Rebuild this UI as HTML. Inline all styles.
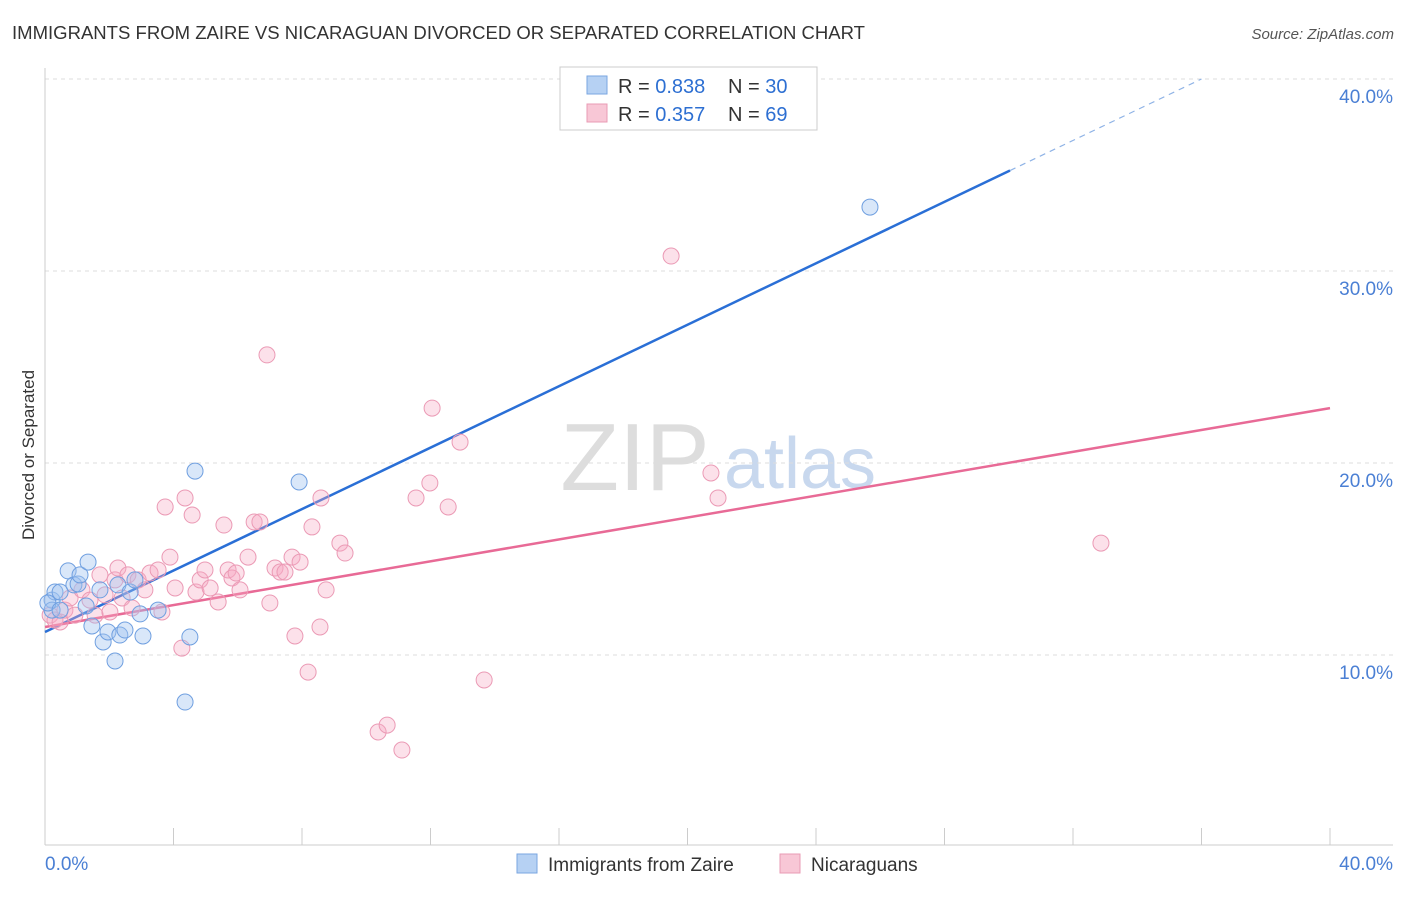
<!DOCTYPE html>
<html><head><meta charset="utf-8"><style>
body{margin:0;background:#fff;font-family:"Liberation Sans",sans-serif;}
svg text{font-family:"Liberation Sans",sans-serif;}
</style></head><body>
<svg id="chart" width="1406" height="892" viewBox="0 0 1406 892">
<text x="12" y="39" font-size="18" fill="#333" textLength="853" lengthAdjust="spacingAndGlyphs">IMMIGRANTS FROM ZAIRE VS NICARAGUAN DIVORCED OR SEPARATED CORRELATION CHART</text>
<text x="1394" y="39" font-size="15" fill="#555" font-style="italic" text-anchor="end">Source: ZipAtlas.com</text>
<text transform="translate(34,455) rotate(-90)" font-size="17" fill="#333" text-anchor="middle">Divorced or Separated</text>
<g><text x="635" y="490" font-size="96" fill="#ddd" font-family="Liberation Serif" text-anchor="middle">ZIP</text><text x="800" y="488" font-size="72" fill="#c8d8ee" text-anchor="middle">atlas</text></g>
<g id="grid"></g><g id="axes"></g><g id="lines"></g><g id="pts"></g>
<g>
<rect x="560" y="67" width="257" height="63" fill="#fff" stroke="#ccc"/>
<rect x="587" y="76" width="20" height="18" fill="#b6d1f3" stroke="#7aa6e0"/>
<rect x="587" y="104" width="20" height="18" fill="#f8c7d6" stroke="#e99bb4"/>
<text x="618" y="93" font-size="20" fill="#333">R = <tspan fill="#2d6fd2">0.838</tspan></text>
<text x="728" y="93" font-size="20" fill="#333">N = <tspan fill="#2d6fd2">30</tspan></text>
<text x="618" y="121" font-size="20" fill="#333">R = <tspan fill="#2d6fd2">0.357</tspan></text>
<text x="728" y="121" font-size="20" fill="#333">N = <tspan fill="#2d6fd2">69</tspan></text>
</g>
<g>
<rect x="517" y="854" width="20" height="19" fill="#b6d1f3" stroke="#7aa6e0"/>
<text x="548" y="871" font-size="19" fill="#333">Immigrants from Zaire</text>
<rect x="780" y="854" width="20" height="19" fill="#f8c7d6" stroke="#e99bb4"/>
<text x="811" y="871" font-size="19" fill="#333">Nicaraguans</text>
</g>
</svg>
<script>
const blueX=[0.22,0.31,0.47,0.22,0.72,0.90,1.03,1.09,1.34,1.28,1.46,1.71,1.81,1.96,2.18,2.33,2.49,2.27,2.65,2.80,2.96,3.05,3.52,4.36,4.51,4.67,7.91,25.68,0.09,0.47];
const blueY=[12.86,13.28,13.28,12.34,14.38,13.65,13.70,14.17,14.84,12.55,11.51,13.39,10.68,11.20,9.69,11.04,11.30,13.65,13.28,13.91,12.14,10.99,12.34,7.55,10.94,19.58,19.01,33.33,12.71,12.34];
const pinkX=[0.16,0.31,0.47,0.62,0.78,0.93,1.15,1.40,1.56,1.71,1.87,2.02,2.18,2.27,2.40,2.58,2.71,2.90,3.11,3.27,3.52,3.64,3.74,3.89,4.05,4.26,4.36,4.58,4.70,4.83,4.98,5.14,5.39,5.57,5.70,5.82,5.95,6.07,6.32,6.51,6.69,6.91,7.00,7.16,7.32,7.47,7.69,7.78,7.94,8.19,8.31,8.56,8.59,8.75,9.18,9.34,10.37,10.65,11.11,11.55,11.98,12.05,12.55,12.92,13.67,19.49,20.73,20.95,32.87];
const pinkY=[12.08,11.82,11.72,12.34,12.97,12.08,13.39,12.86,12.08,14.17,13.13,12.24,13.91,14.53,12.97,14.17,12.45,13.91,13.39,14.27,14.43,12.24,17.71,15.10,13.49,10.36,18.18,17.29,13.28,13.91,14.43,13.49,12.76,16.77,14.43,14.01,14.27,13.39,15.10,16.93,16.93,25.63,12.71,14.53,14.32,14.32,15.10,10.99,14.84,9.11,16.67,11.46,18.18,13.39,15.83,15.31,5.99,6.35,5.05,18.18,18.96,22.86,17.71,21.09,8.70,30.78,19.48,18.18,15.83];
const yTicks=[10,20,30,40];
const blueLine=[11.2,0.8];
const pinkLine=[11.46,0.285];
const NS="http://www.w3.org/2000/svg";
const sx=v=>45+v*1285/40, sy=v=>847-v*19.2;
function mk(tag,attrs,parent){const e=document.createElementNS(NS,tag);for(const k in attrs)e.setAttribute(k,attrs[k]);document.getElementById(parent).appendChild(e);return e;}
yTicks.forEach(t=>{
 const g=mk('line',{x1:45,x2:1393,y1:sy(t),y2:sy(t),stroke:'#ddd','stroke-dasharray':'4,4'},'grid');
 
 
 const l=mk('text',{x:1393,y:sy(t)+24,'font-size':19,fill:'#4a7fd4','text-anchor':'end'},'grid');
 l.textContent=t.toFixed(1)+'%';
 
 
});
mk('line',{x1:45,x2:45,y1:68,y2:845,stroke:'#ccc'},'axes');
mk('line',{x1:45,x2:1393,y1:845,y2:845,stroke:'#ccc'},'axes');
for(let i=0;i<=10;i++){const x=sx(i*4);const t=mk('line',{x1:x,x2:x,y1:828,y2:845,stroke:'#ccc'},'axes');}
let a=mk('text',{x:45,y:870,'font-size':19,fill:'#4a7fd4'},'axes');a.textContent='0.0%';


a=mk('text',{x:1393,y:870,'font-size':19,fill:'#4a7fd4','text-anchor':'end'},'axes');a.textContent='40.0%';


const bEnd=30.04, bDash=(40-blueLine[0])/blueLine[1];
let ln=mk('line',{x1:sx(0),y1:sy(blueLine[0]),x2:sx(bEnd),y2:sy(blueLine[0]+blueLine[1]*bEnd),stroke:'#2a6fd6','stroke-width':2.5},'lines');


ln=mk('line',{x1:sx(bEnd),y1:sy(blueLine[0]+blueLine[1]*bEnd),x2:sx(bDash),y2:sy(40),stroke:'#8fb3e6','stroke-width':1.2,'stroke-dasharray':'6,5'},'lines');


ln=mk('line',{x1:sx(0),y1:sy(pinkLine[0]),x2:sx(40),y2:sy(pinkLine[0]+pinkLine[1]*40),stroke:'#e86a96','stroke-width':2.5},'lines');


pinkX.forEach((x,i)=>{const c=mk('circle',{cx:sx(x),cy:sy(pinkY[i]),r:8,fill:'rgba(245,170,195,0.35)',stroke:'#eb9ab5','stroke-width':1},'pts');
 
 });
blueX.forEach((x,i)=>{const c=mk('circle',{cx:sx(x),cy:sy(blueY[i]),r:8,fill:'rgba(160,195,240,0.4)',stroke:'#6f9fe0','stroke-width':1},'pts');
 
 });
</script>
</body></html>
